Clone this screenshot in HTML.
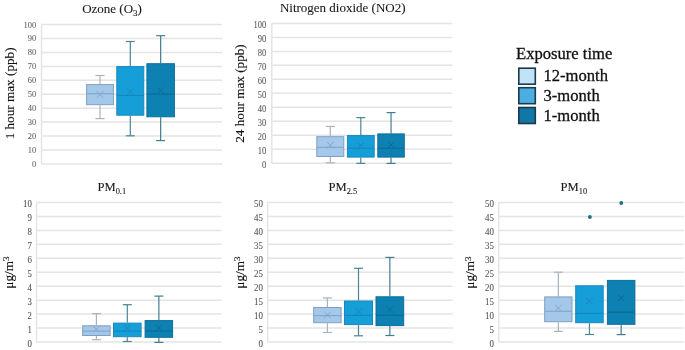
<!DOCTYPE html>
<html><head><meta charset="utf-8"><style>
html,body{margin:0;padding:0;background:#fff;}
svg{display:block;will-change:transform;}
.tk{font-family:"Liberation Serif",serif;font-size:9.3px;fill:#5f5f5f;stroke:#6a6a6a;stroke-width:0.08px;text-anchor:end;}
.tt{font-family:"Liberation Serif",serif;font-size:13px;fill:#1a1a1a;stroke:#1a1a1a;stroke-width:0.1px;}
.sub{font-size:9px;}
.tb{font-size:12.6px;}
.sub2{font-size:8.4px;}
.sup{font-size:9px;}
.yl{font-family:"Liberation Serif",serif;font-size:13.2px;fill:#111;stroke:#111;stroke-width:0.12px;}
.lg{font-family:"Liberation Serif",serif;font-size:16.6px;fill:#111;stroke:#111;stroke-width:0.3px;}
</style></head><body>
<svg width="685" height="350" viewBox="0 0 685 350">
<line x1="41.5" y1="163.9" x2="222" y2="163.9" stroke="#e4e4e4" stroke-width="1.5"/>
<line x1="41.5" y1="149.97" x2="222" y2="149.97" stroke="#e4e4e4" stroke-width="1.5"/>
<line x1="41.5" y1="136.04" x2="222" y2="136.04" stroke="#e4e4e4" stroke-width="1.5"/>
<line x1="41.5" y1="122.11" x2="222" y2="122.11" stroke="#e4e4e4" stroke-width="1.5"/>
<line x1="41.5" y1="108.18" x2="222" y2="108.18" stroke="#e4e4e4" stroke-width="1.5"/>
<line x1="41.5" y1="94.25" x2="222" y2="94.25" stroke="#e4e4e4" stroke-width="1.5"/>
<line x1="41.5" y1="80.32" x2="222" y2="80.32" stroke="#e4e4e4" stroke-width="1.5"/>
<line x1="41.5" y1="66.39" x2="222" y2="66.39" stroke="#e4e4e4" stroke-width="1.5"/>
<line x1="41.5" y1="52.46" x2="222" y2="52.46" stroke="#e4e4e4" stroke-width="1.5"/>
<line x1="41.5" y1="38.53" x2="222" y2="38.53" stroke="#e4e4e4" stroke-width="1.5"/>
<line x1="41.5" y1="24.6" x2="222" y2="24.6" stroke="#e4e4e4" stroke-width="1.5"/>
<line x1="41.5" y1="24.6" x2="41.5" y2="163.9" stroke="#e4e4e4" stroke-width="1.5"/>
<text class="tk" style="font-size:9.2px;fill:#606060" transform="translate(36.2,166.81) scale(0.920,1)">0</text>
<text class="tk" style="font-size:9.2px;fill:#606060" transform="translate(36.2,152.88) scale(0.920,1)">10</text>
<text class="tk" style="font-size:9.2px;fill:#606060" transform="translate(36.2,138.95) scale(0.920,1)">20</text>
<text class="tk" style="font-size:9.2px;fill:#606060" transform="translate(36.2,125.02) scale(0.920,1)">30</text>
<text class="tk" style="font-size:9.2px;fill:#606060" transform="translate(36.2,111.09) scale(0.920,1)">40</text>
<text class="tk" style="font-size:9.2px;fill:#606060" transform="translate(36.2,97.16) scale(0.920,1)">50</text>
<text class="tk" style="font-size:9.2px;fill:#606060" transform="translate(36.2,83.23) scale(0.920,1)">60</text>
<text class="tk" style="font-size:9.2px;fill:#606060" transform="translate(36.2,69.3) scale(0.920,1)">70</text>
<text class="tk" style="font-size:9.2px;fill:#606060" transform="translate(36.2,55.37) scale(0.920,1)">80</text>
<text class="tk" style="font-size:9.2px;fill:#606060" transform="translate(36.2,41.44) scale(0.920,1)">90</text>
<text class="tk" style="font-size:9.2px;fill:#606060" transform="translate(36.2,27.51) scale(0.920,1)">100</text>
<line x1="100" y1="75.5" x2="100" y2="84.1" stroke="#a8b3bd" stroke-width="1.2"/>
<line x1="95.5" y1="75.5" x2="104.5" y2="75.5" stroke="#a8b3bd" stroke-width="1.2"/>
<line x1="100" y1="105.2" x2="100" y2="118.6" stroke="#a8b3bd" stroke-width="1.2"/>
<line x1="95.5" y1="118.6" x2="104.5" y2="118.6" stroke="#a8b3bd" stroke-width="1.2"/>
<rect x="86.6" y="84.6" width="26.8" height="20.1" fill="#a3c8e9" stroke="#809fc0" stroke-width="1.0"/>
<line x1="86.6" y1="93.7" x2="113.4" y2="93.7" stroke="#86a6c8" stroke-width="1.2"/>
<path d="M96.8 91.4L103.2 97.8M103.2 91.4L96.8 97.8" stroke="#86a6c8" stroke-width="1" fill="none"/>
<line x1="130.3" y1="41.5" x2="130.3" y2="66.1" stroke="#4a8599" stroke-width="1.2"/>
<line x1="125.8" y1="41.5" x2="134.8" y2="41.5" stroke="#4a8599" stroke-width="1.2"/>
<line x1="130.3" y1="115.7" x2="130.3" y2="135.8" stroke="#4a8599" stroke-width="1.2"/>
<line x1="125.8" y1="135.8" x2="134.8" y2="135.8" stroke="#4a8599" stroke-width="1.2"/>
<rect x="116.8" y="66.6" width="27" height="48.6" fill="#159ed8" stroke="#1889bd" stroke-width="1.0"/>
<line x1="116.8" y1="95.4" x2="143.8" y2="95.4" stroke="#1588bd" stroke-width="1.2"/>
<path d="M127.1 88.4L133.5 94.8M133.5 88.4L127.1 94.8" stroke="#1588bd" stroke-width="1" fill="none"/>
<line x1="160.65" y1="35.7" x2="160.65" y2="63.2" stroke="#437d91" stroke-width="1.2"/>
<line x1="156.15" y1="35.7" x2="165.15" y2="35.7" stroke="#437d91" stroke-width="1.2"/>
<line x1="160.65" y1="117.3" x2="160.65" y2="140.6" stroke="#437d91" stroke-width="1.2"/>
<line x1="156.15" y1="140.6" x2="165.15" y2="140.6" stroke="#437d91" stroke-width="1.2"/>
<rect x="146.9" y="63.7" width="27.5" height="53.1" fill="#0d81b2" stroke="#0f6f99" stroke-width="1.0"/>
<line x1="146.9" y1="94.1" x2="174.4" y2="94.1" stroke="#0c6c96" stroke-width="1.2"/>
<path d="M157.45 87.3L163.85 93.7M163.85 87.3L157.45 93.7" stroke="#0c6c96" stroke-width="1" fill="none"/>
<text class="tt" x="112" y="12.6" text-anchor="middle">Ozone (O<tspan class="sub" dy="3">3</tspan><tspan dy="-3">)</tspan></text>
<text class="yl" transform="translate(13.7,93.4) rotate(-90)" text-anchor="middle">1 hour max (ppb)</text>
<line x1="271.8" y1="163.3" x2="452.4" y2="163.3" stroke="#e4e4e4" stroke-width="1.5"/>
<line x1="271.8" y1="149.31" x2="452.4" y2="149.31" stroke="#e4e4e4" stroke-width="1.5"/>
<line x1="271.8" y1="135.32" x2="452.4" y2="135.32" stroke="#e4e4e4" stroke-width="1.5"/>
<line x1="271.8" y1="121.33" x2="452.4" y2="121.33" stroke="#e4e4e4" stroke-width="1.5"/>
<line x1="271.8" y1="107.34" x2="452.4" y2="107.34" stroke="#e4e4e4" stroke-width="1.5"/>
<line x1="271.8" y1="93.35" x2="452.4" y2="93.35" stroke="#e4e4e4" stroke-width="1.5"/>
<line x1="271.8" y1="79.36" x2="452.4" y2="79.36" stroke="#e4e4e4" stroke-width="1.5"/>
<line x1="271.8" y1="65.37" x2="452.4" y2="65.37" stroke="#e4e4e4" stroke-width="1.5"/>
<line x1="271.8" y1="51.38" x2="452.4" y2="51.38" stroke="#e4e4e4" stroke-width="1.5"/>
<line x1="271.8" y1="37.39" x2="452.4" y2="37.39" stroke="#e4e4e4" stroke-width="1.5"/>
<line x1="271.8" y1="23.4" x2="452.4" y2="23.4" stroke="#e4e4e4" stroke-width="1.5"/>
<line x1="271.8" y1="23.4" x2="271.8" y2="163.3" stroke="#e4e4e4" stroke-width="1.5"/>
<text class="tk" style="font-size:9.4px;fill:#555555" transform="translate(266.2,168.27) scale(0.900,1)">0</text>
<text class="tk" style="font-size:9.4px;fill:#555555" transform="translate(266.2,154.28) scale(0.900,1)">10</text>
<text class="tk" style="font-size:9.4px;fill:#555555" transform="translate(266.2,140.29) scale(0.900,1)">20</text>
<text class="tk" style="font-size:9.4px;fill:#555555" transform="translate(266.2,126.3) scale(0.900,1)">30</text>
<text class="tk" style="font-size:9.4px;fill:#555555" transform="translate(266.2,112.31) scale(0.900,1)">40</text>
<text class="tk" style="font-size:9.4px;fill:#555555" transform="translate(266.2,98.32) scale(0.900,1)">50</text>
<text class="tk" style="font-size:9.4px;fill:#555555" transform="translate(266.2,84.33) scale(0.900,1)">60</text>
<text class="tk" style="font-size:9.4px;fill:#555555" transform="translate(266.2,70.34) scale(0.900,1)">70</text>
<text class="tk" style="font-size:9.4px;fill:#555555" transform="translate(266.2,56.35) scale(0.900,1)">80</text>
<text class="tk" style="font-size:9.4px;fill:#555555" transform="translate(266.2,42.36) scale(0.900,1)">90</text>
<text class="tk" style="font-size:9.4px;fill:#555555" transform="translate(266.2,28.37) scale(0.900,1)">100</text>
<line x1="330.3" y1="126.4" x2="330.3" y2="136.2" stroke="#a8b3bd" stroke-width="1.2"/>
<line x1="325.8" y1="126.4" x2="334.8" y2="126.4" stroke="#a8b3bd" stroke-width="1.2"/>
<line x1="330.3" y1="157" x2="330.3" y2="162.8" stroke="#a8b3bd" stroke-width="1.2"/>
<line x1="325.8" y1="162.8" x2="334.8" y2="162.8" stroke="#a8b3bd" stroke-width="1.2"/>
<rect x="316.8" y="136.7" width="27" height="19.8" fill="#a3c8e9" stroke="#809fc0" stroke-width="1.0"/>
<line x1="316.8" y1="147.4" x2="343.8" y2="147.4" stroke="#86a6c8" stroke-width="1.2"/>
<path d="M327.1 142.1L333.5 148.5M333.5 142.1L327.1 148.5" stroke="#86a6c8" stroke-width="1" fill="none"/>
<line x1="360.8" y1="117.6" x2="360.8" y2="135.1" stroke="#4a8599" stroke-width="1.2"/>
<line x1="356.3" y1="117.6" x2="365.3" y2="117.6" stroke="#4a8599" stroke-width="1.2"/>
<line x1="360.8" y1="157.6" x2="360.8" y2="163.4" stroke="#4a8599" stroke-width="1.2"/>
<line x1="356.3" y1="163.4" x2="365.3" y2="163.4" stroke="#4a8599" stroke-width="1.2"/>
<rect x="347.4" y="135.6" width="26.8" height="21.5" fill="#159ed8" stroke="#1889bd" stroke-width="1.0"/>
<line x1="347.4" y1="148.2" x2="374.2" y2="148.2" stroke="#1588bd" stroke-width="1.2"/>
<path d="M357.6 142.3L364 148.7M364 142.3L357.6 148.7" stroke="#1588bd" stroke-width="1" fill="none"/>
<line x1="391.05" y1="112.6" x2="391.05" y2="133.4" stroke="#437d91" stroke-width="1.2"/>
<line x1="386.55" y1="112.6" x2="395.55" y2="112.6" stroke="#437d91" stroke-width="1.2"/>
<line x1="391.05" y1="157.6" x2="391.05" y2="163.4" stroke="#437d91" stroke-width="1.2"/>
<line x1="386.55" y1="163.4" x2="395.55" y2="163.4" stroke="#437d91" stroke-width="1.2"/>
<rect x="377.8" y="133.9" width="26.5" height="23.2" fill="#0d81b2" stroke="#0f6f99" stroke-width="1.0"/>
<line x1="377.8" y1="148.2" x2="404.3" y2="148.2" stroke="#0c6c96" stroke-width="1.2"/>
<path d="M387.85 141.8L394.25 148.2M394.25 141.8L387.85 148.2" stroke="#0c6c96" stroke-width="1" fill="none"/>
<text class="tt" x="342.7" y="12" text-anchor="middle">Nitrogen dioxide (NO2)</text>
<text class="yl" transform="translate(244,93.5) rotate(-90)" text-anchor="middle">24 hour max (ppb)</text>
<line x1="36.5" y1="342" x2="221.4" y2="342" stroke="#e4e4e4" stroke-width="1.5"/>
<line x1="36.5" y1="328.05" x2="221.4" y2="328.05" stroke="#e4e4e4" stroke-width="1.5"/>
<line x1="36.5" y1="314.1" x2="221.4" y2="314.1" stroke="#e4e4e4" stroke-width="1.5"/>
<line x1="36.5" y1="300.15" x2="221.4" y2="300.15" stroke="#e4e4e4" stroke-width="1.5"/>
<line x1="36.5" y1="286.2" x2="221.4" y2="286.2" stroke="#e4e4e4" stroke-width="1.5"/>
<line x1="36.5" y1="272.25" x2="221.4" y2="272.25" stroke="#e4e4e4" stroke-width="1.5"/>
<line x1="36.5" y1="258.3" x2="221.4" y2="258.3" stroke="#e4e4e4" stroke-width="1.5"/>
<line x1="36.5" y1="244.35" x2="221.4" y2="244.35" stroke="#e4e4e4" stroke-width="1.5"/>
<line x1="36.5" y1="230.4" x2="221.4" y2="230.4" stroke="#e4e4e4" stroke-width="1.5"/>
<line x1="36.5" y1="216.45" x2="221.4" y2="216.45" stroke="#e4e4e4" stroke-width="1.5"/>
<line x1="36.5" y1="202.5" x2="221.4" y2="202.5" stroke="#e4e4e4" stroke-width="1.5"/>
<line x1="36.5" y1="202.5" x2="36.5" y2="342" stroke="#e4e4e4" stroke-width="1.5"/>
<text class="tk" style="font-size:10.0px;fill:#4a4a4a" transform="translate(31.9,346.77) scale(0.880,1)">0</text>
<text class="tk" style="font-size:10.0px;fill:#4a4a4a" transform="translate(31.9,332.82) scale(0.880,1)">1</text>
<text class="tk" style="font-size:10.0px;fill:#4a4a4a" transform="translate(31.9,318.87) scale(0.880,1)">2</text>
<text class="tk" style="font-size:10.0px;fill:#4a4a4a" transform="translate(31.9,304.92) scale(0.880,1)">3</text>
<text class="tk" style="font-size:10.0px;fill:#4a4a4a" transform="translate(31.9,290.97) scale(0.880,1)">4</text>
<text class="tk" style="font-size:10.0px;fill:#4a4a4a" transform="translate(31.9,277.02) scale(0.880,1)">5</text>
<text class="tk" style="font-size:10.0px;fill:#4a4a4a" transform="translate(31.9,263.07) scale(0.880,1)">6</text>
<text class="tk" style="font-size:10.0px;fill:#4a4a4a" transform="translate(31.9,249.12) scale(0.880,1)">7</text>
<text class="tk" style="font-size:10.0px;fill:#4a4a4a" transform="translate(31.9,235.17) scale(0.880,1)">8</text>
<text class="tk" style="font-size:10.0px;fill:#4a4a4a" transform="translate(31.9,221.22) scale(0.880,1)">9</text>
<text class="tk" style="font-size:10.0px;fill:#4a4a4a" transform="translate(31.9,207.27) scale(0.880,1)">10</text>
<line x1="96.4" y1="313.7" x2="96.4" y2="325.3" stroke="#a8b3bd" stroke-width="1.2"/>
<line x1="91.9" y1="313.7" x2="100.9" y2="313.7" stroke="#a8b3bd" stroke-width="1.2"/>
<line x1="96.4" y1="336" x2="96.4" y2="339.7" stroke="#a8b3bd" stroke-width="1.2"/>
<line x1="91.9" y1="339.7" x2="100.9" y2="339.7" stroke="#a8b3bd" stroke-width="1.2"/>
<rect x="82.7" y="325.8" width="27.4" height="9.7" fill="#a3c8e9" stroke="#809fc0" stroke-width="1.0"/>
<line x1="82.7" y1="331.1" x2="110.1" y2="331.1" stroke="#86a6c8" stroke-width="1.2"/>
<path d="M93.2 326.1L99.6 332.5M99.6 326.1L93.2 332.5" stroke="#86a6c8" stroke-width="1" fill="none"/>
<line x1="127.3" y1="304.7" x2="127.3" y2="322.6" stroke="#4a8599" stroke-width="1.2"/>
<line x1="122.8" y1="304.7" x2="131.8" y2="304.7" stroke="#4a8599" stroke-width="1.2"/>
<line x1="127.3" y1="337.2" x2="127.3" y2="341.5" stroke="#4a8599" stroke-width="1.2"/>
<line x1="122.8" y1="341.5" x2="131.8" y2="341.5" stroke="#4a8599" stroke-width="1.2"/>
<rect x="113.5" y="323.1" width="27.6" height="13.6" fill="#159ed8" stroke="#1889bd" stroke-width="1.0"/>
<line x1="113.5" y1="331.1" x2="141.1" y2="331.1" stroke="#1588bd" stroke-width="1.2"/>
<path d="M124.1 324.8L130.5 331.2M130.5 324.8L124.1 331.2" stroke="#1588bd" stroke-width="1" fill="none"/>
<line x1="158.85" y1="296.1" x2="158.85" y2="320.1" stroke="#437d91" stroke-width="1.2"/>
<line x1="154.35" y1="296.1" x2="163.35" y2="296.1" stroke="#437d91" stroke-width="1.2"/>
<line x1="158.85" y1="337.8" x2="158.85" y2="342.4" stroke="#437d91" stroke-width="1.2"/>
<line x1="154.35" y1="342.4" x2="163.35" y2="342.4" stroke="#437d91" stroke-width="1.2"/>
<rect x="145.1" y="320.6" width="27.5" height="16.7" fill="#0d81b2" stroke="#0f6f99" stroke-width="1.0"/>
<line x1="145.1" y1="331.05" x2="172.6" y2="331.05" stroke="#0c6c96" stroke-width="1.2"/>
<path d="M155.65 324.7L162.05 331.1M162.05 324.7L155.65 331.1" stroke="#0c6c96" stroke-width="1" fill="none"/>
<text class="tt tb" x="111.8" y="191" text-anchor="middle">PM<tspan class="sub2" dy="2.6">0.1</tspan></text>
<text class="yl" transform="translate(12.9,272.6) rotate(-90)" text-anchor="middle">&#956;g/m<tspan class="sup" dy="-3.8">3</tspan></text>
<line x1="267.6" y1="342" x2="452.8" y2="342" stroke="#e4e4e4" stroke-width="1.5"/>
<line x1="267.6" y1="328.05" x2="452.8" y2="328.05" stroke="#e4e4e4" stroke-width="1.5"/>
<line x1="267.6" y1="314.1" x2="452.8" y2="314.1" stroke="#e4e4e4" stroke-width="1.5"/>
<line x1="267.6" y1="300.15" x2="452.8" y2="300.15" stroke="#e4e4e4" stroke-width="1.5"/>
<line x1="267.6" y1="286.2" x2="452.8" y2="286.2" stroke="#e4e4e4" stroke-width="1.5"/>
<line x1="267.6" y1="272.25" x2="452.8" y2="272.25" stroke="#e4e4e4" stroke-width="1.5"/>
<line x1="267.6" y1="258.3" x2="452.8" y2="258.3" stroke="#e4e4e4" stroke-width="1.5"/>
<line x1="267.6" y1="244.35" x2="452.8" y2="244.35" stroke="#e4e4e4" stroke-width="1.5"/>
<line x1="267.6" y1="230.4" x2="452.8" y2="230.4" stroke="#e4e4e4" stroke-width="1.5"/>
<line x1="267.6" y1="216.45" x2="452.8" y2="216.45" stroke="#e4e4e4" stroke-width="1.5"/>
<line x1="267.6" y1="202.5" x2="452.8" y2="202.5" stroke="#e4e4e4" stroke-width="1.5"/>
<line x1="267.6" y1="202.5" x2="267.6" y2="342" stroke="#e4e4e4" stroke-width="1.5"/>
<text class="tk" style="font-size:9.6px;fill:#505050" transform="translate(263,346.64) scale(0.930,1)">0</text>
<text class="tk" style="font-size:9.6px;fill:#505050" transform="translate(263,332.69) scale(0.930,1)">5</text>
<text class="tk" style="font-size:9.6px;fill:#505050" transform="translate(263,318.74) scale(0.930,1)">10</text>
<text class="tk" style="font-size:9.6px;fill:#505050" transform="translate(263,304.79) scale(0.930,1)">15</text>
<text class="tk" style="font-size:9.6px;fill:#505050" transform="translate(263,290.84) scale(0.930,1)">20</text>
<text class="tk" style="font-size:9.6px;fill:#505050" transform="translate(263,276.89) scale(0.930,1)">25</text>
<text class="tk" style="font-size:9.6px;fill:#505050" transform="translate(263,262.94) scale(0.930,1)">30</text>
<text class="tk" style="font-size:9.6px;fill:#505050" transform="translate(263,248.99) scale(0.930,1)">35</text>
<text class="tk" style="font-size:9.6px;fill:#505050" transform="translate(263,235.04) scale(0.930,1)">40</text>
<text class="tk" style="font-size:9.6px;fill:#505050" transform="translate(263,221.09) scale(0.930,1)">45</text>
<text class="tk" style="font-size:9.6px;fill:#505050" transform="translate(263,207.14) scale(0.930,1)">50</text>
<line x1="327.4" y1="297.9" x2="327.4" y2="307" stroke="#a8b3bd" stroke-width="1.2"/>
<line x1="322.9" y1="297.9" x2="331.9" y2="297.9" stroke="#a8b3bd" stroke-width="1.2"/>
<line x1="327.4" y1="323.2" x2="327.4" y2="332.5" stroke="#a8b3bd" stroke-width="1.2"/>
<line x1="322.9" y1="332.5" x2="331.9" y2="332.5" stroke="#a8b3bd" stroke-width="1.2"/>
<rect x="313.7" y="307.5" width="27.4" height="15.2" fill="#a3c8e9" stroke="#809fc0" stroke-width="1.0"/>
<line x1="313.7" y1="315.6" x2="341.1" y2="315.6" stroke="#86a6c8" stroke-width="1.2"/>
<path d="M324.2 311.8L330.6 318.2M330.6 311.8L324.2 318.2" stroke="#86a6c8" stroke-width="1" fill="none"/>
<line x1="358.5" y1="268.3" x2="358.5" y2="300.5" stroke="#4a8599" stroke-width="1.2"/>
<line x1="354" y1="268.3" x2="363" y2="268.3" stroke="#4a8599" stroke-width="1.2"/>
<line x1="358.5" y1="325.1" x2="358.5" y2="335.8" stroke="#4a8599" stroke-width="1.2"/>
<line x1="354" y1="335.8" x2="363" y2="335.8" stroke="#4a8599" stroke-width="1.2"/>
<rect x="344.5" y="301" width="28" height="23.6" fill="#159ed8" stroke="#1889bd" stroke-width="1.0"/>
<line x1="344.5" y1="315.4" x2="372.5" y2="315.4" stroke="#1588bd" stroke-width="1.2"/>
<path d="M355.3 308.4L361.7 314.8M361.7 308.4L355.3 314.8" stroke="#1588bd" stroke-width="1" fill="none"/>
<line x1="389.85" y1="257.4" x2="389.85" y2="296.3" stroke="#437d91" stroke-width="1.2"/>
<line x1="385.35" y1="257.4" x2="394.35" y2="257.4" stroke="#437d91" stroke-width="1.2"/>
<line x1="389.85" y1="326.1" x2="389.85" y2="335.5" stroke="#437d91" stroke-width="1.2"/>
<line x1="385.35" y1="335.5" x2="394.35" y2="335.5" stroke="#437d91" stroke-width="1.2"/>
<rect x="376" y="296.8" width="27.7" height="28.8" fill="#0d81b2" stroke="#0f6f99" stroke-width="1.0"/>
<line x1="376" y1="315.1" x2="403.7" y2="315.1" stroke="#0c6c96" stroke-width="1.2"/>
<path d="M386.65 306.4L393.05 312.8M393.05 306.4L386.65 312.8" stroke="#0c6c96" stroke-width="1" fill="none"/>
<text class="tt tb" x="342.8" y="191" text-anchor="middle">PM<tspan class="sub2" dy="2.6">2.5</tspan></text>
<text class="yl" transform="translate(244.2,272.6) rotate(-90)" text-anchor="middle">&#956;g/m<tspan class="sup" dy="-3.8">3</tspan></text>
<line x1="498.7" y1="342" x2="683.7" y2="342" stroke="#e4e4e4" stroke-width="1.5"/>
<line x1="498.7" y1="328.05" x2="683.7" y2="328.05" stroke="#e4e4e4" stroke-width="1.5"/>
<line x1="498.7" y1="314.1" x2="683.7" y2="314.1" stroke="#e4e4e4" stroke-width="1.5"/>
<line x1="498.7" y1="300.15" x2="683.7" y2="300.15" stroke="#e4e4e4" stroke-width="1.5"/>
<line x1="498.7" y1="286.2" x2="683.7" y2="286.2" stroke="#e4e4e4" stroke-width="1.5"/>
<line x1="498.7" y1="272.25" x2="683.7" y2="272.25" stroke="#e4e4e4" stroke-width="1.5"/>
<line x1="498.7" y1="258.3" x2="683.7" y2="258.3" stroke="#e4e4e4" stroke-width="1.5"/>
<line x1="498.7" y1="244.35" x2="683.7" y2="244.35" stroke="#e4e4e4" stroke-width="1.5"/>
<line x1="498.7" y1="230.4" x2="683.7" y2="230.4" stroke="#e4e4e4" stroke-width="1.5"/>
<line x1="498.7" y1="216.45" x2="683.7" y2="216.45" stroke="#e4e4e4" stroke-width="1.5"/>
<line x1="498.7" y1="202.5" x2="683.7" y2="202.5" stroke="#e4e4e4" stroke-width="1.5"/>
<line x1="498.7" y1="202.5" x2="498.7" y2="342" stroke="#e4e4e4" stroke-width="1.5"/>
<text class="tk" style="font-size:9.6px;fill:#505050" transform="translate(493.9,346.64) scale(0.930,1)">0</text>
<text class="tk" style="font-size:9.6px;fill:#505050" transform="translate(493.9,332.69) scale(0.930,1)">5</text>
<text class="tk" style="font-size:9.6px;fill:#505050" transform="translate(493.9,318.74) scale(0.930,1)">10</text>
<text class="tk" style="font-size:9.6px;fill:#505050" transform="translate(493.9,304.79) scale(0.930,1)">15</text>
<text class="tk" style="font-size:9.6px;fill:#505050" transform="translate(493.9,290.84) scale(0.930,1)">20</text>
<text class="tk" style="font-size:9.6px;fill:#505050" transform="translate(493.9,276.89) scale(0.930,1)">25</text>
<text class="tk" style="font-size:9.6px;fill:#505050" transform="translate(493.9,262.94) scale(0.930,1)">30</text>
<text class="tk" style="font-size:9.6px;fill:#505050" transform="translate(493.9,248.99) scale(0.930,1)">35</text>
<text class="tk" style="font-size:9.6px;fill:#505050" transform="translate(493.9,235.04) scale(0.930,1)">40</text>
<text class="tk" style="font-size:9.6px;fill:#505050" transform="translate(493.9,221.09) scale(0.930,1)">45</text>
<text class="tk" style="font-size:9.6px;fill:#505050" transform="translate(493.9,207.14) scale(0.930,1)">50</text>
<line x1="558.35" y1="272.2" x2="558.35" y2="296.4" stroke="#a8b3bd" stroke-width="1.2"/>
<line x1="553.85" y1="272.2" x2="562.85" y2="272.2" stroke="#a8b3bd" stroke-width="1.2"/>
<line x1="558.35" y1="322.2" x2="558.35" y2="331.4" stroke="#a8b3bd" stroke-width="1.2"/>
<line x1="553.85" y1="331.4" x2="562.85" y2="331.4" stroke="#a8b3bd" stroke-width="1.2"/>
<rect x="544.7" y="296.9" width="27.3" height="24.8" fill="#a3c8e9" stroke="#809fc0" stroke-width="1.0"/>
<line x1="544.7" y1="311.3" x2="572" y2="311.3" stroke="#86a6c8" stroke-width="1.2"/>
<path d="M555.15 305L561.55 311.4M561.55 305L555.15 311.4" stroke="#86a6c8" stroke-width="1" fill="none"/>
<line x1="589.45" y1="323.2" x2="589.45" y2="334.5" stroke="#4a8599" stroke-width="1.2"/>
<line x1="584.95" y1="334.5" x2="593.95" y2="334.5" stroke="#4a8599" stroke-width="1.2"/>
<rect x="575.7" y="285.8" width="27.5" height="36.9" fill="#159ed8" stroke="#1889bd" stroke-width="1.0"/>
<line x1="575.7" y1="313.4" x2="603.2" y2="313.4" stroke="#1588bd" stroke-width="1.2"/>
<path d="M586.25 297.8L592.65 304.2M592.65 297.8L586.25 304.2" stroke="#1588bd" stroke-width="1" fill="none"/>
<circle cx="589.9" cy="217" r="1.9" fill="#1b6f8e"/>
<line x1="621.15" y1="324.8" x2="621.15" y2="334.6" stroke="#437d91" stroke-width="1.2"/>
<line x1="616.65" y1="334.6" x2="625.65" y2="334.6" stroke="#437d91" stroke-width="1.2"/>
<rect x="607.4" y="280.4" width="27.5" height="43.9" fill="#0d81b2" stroke="#0f6f99" stroke-width="1.0"/>
<line x1="607.4" y1="312.2" x2="634.9" y2="312.2" stroke="#0c6c96" stroke-width="1.2"/>
<path d="M617.95 294.7L624.35 301.1M624.35 294.7L617.95 301.1" stroke="#0c6c96" stroke-width="1" fill="none"/>
<circle cx="621.3" cy="203" r="1.9" fill="#1b6f8e"/>
<text class="tt tb" x="573.8" y="191" text-anchor="middle">PM<tspan class="sub2" dy="2.6">10</tspan></text>
<text class="yl" transform="translate(474.4,272.6) rotate(-90)" text-anchor="middle">&#956;g/m<tspan class="sup" dy="-3.8">3</tspan></text>
<text class="lg" x="516" y="59">Exposure time</text>
<rect x="518.8" y="68.2" width="16.5" height="16" fill="#c2e3f5" stroke="#1c3a4c" stroke-width="1.6"/>
<text class="lg" x="543.5" y="81.4">12-month</text>
<rect x="518.8" y="87.7" width="16.5" height="16" fill="#4aaee0" stroke="#1c3a4c" stroke-width="1.6"/>
<text class="lg" x="543.5" y="100.7">3-month</text>
<rect x="518.8" y="107.5" width="16.5" height="16" fill="#1277a6" stroke="#1c3a4c" stroke-width="1.6"/>
<text class="lg" x="543.5" y="120.5">1-month</text>
</svg>
</body></html>
